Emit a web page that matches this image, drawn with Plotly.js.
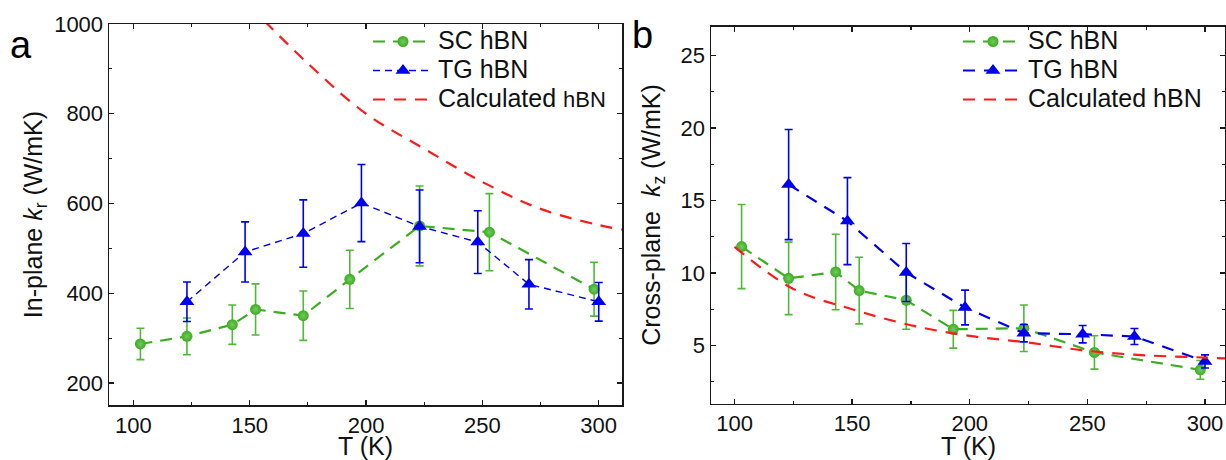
<!DOCTYPE html>
<html>
<head>
<meta charset="utf-8">
<script src="https://cdn.plot.ly/plotly-3.0.1.min.js"></script>
<style>html,body{margin:0;padding:0;background:#fff;}#chart{width:1226px;height:460px;}</style>
</head>
<body>
<div id="chart"></div>
<script>
// ---- Panel a: in-plane thermal conductivity ----
const scT_a = [103, 123, 142.5, 152.5, 173, 193, 223, 253, 298];
const scK_a = [287, 304, 330, 364, 350, 431, 550, 536, 409];
const scErr_a = [35, 41, 44, 57, 55, 65, 89, 86, 60];

const tgT_a = [123, 148, 173, 198, 223, 248, 270, 300];
const tgK_a = [381, 492, 533, 601, 549, 514, 420, 381];
const tgErr_a = [44, 67, 75, 86, 81, 70, 55, 43];

const calcT_a = [150, 175, 200, 225, 250, 275, 300, 310];
const calcK_a = [1040, 912, 800, 722, 648, 588, 552, 542];

// ---- Panel b: cross-plane thermal conductivity ----
const scT_b = [103, 123, 143, 153, 173, 193, 223, 253, 298];
const scK_b = [11.82, 9.63, 10.07, 8.79, 8.12, 6.12, 6.19, 4.52, 3.32];
const scErr_b = [2.9, 2.5, 2.6, 2.3, 2.0, 1.3, 1.6, 1.15, 0.65];

const tgT_b = [123, 148, 173, 198, 223, 248, 270, 300];
const tgK_b = [16.1, 13.58, 10.03, 7.62, 5.85, 5.78, 5.62, 3.9];
const tgErr_b = [3.8, 3.0, 2.0, 1.2, 0.6, 0.6, 0.55, 0.45];

const calcT_b = [100, 125, 150, 175, 200, 225, 250, 275, 300, 310];
const calcK_b = [11.8, 8.9, 7.5, 6.4, 5.66, 5.2, 4.63, 4.32, 4.17, 4.1];

const legendNames_a = ['SC hBN', 'TG hBN', 'Calculated <span style="font-size:22px">hBN</span>'];
const legendNames_b = ['SC hBN', 'TG hBN', 'Calculated hBN'];
const xTitle = 'T (K)';

const GREEN = '#3aae1e';
const GREEN_ERR = '#4fba36';
const BLUE = '#0000f0';
const RED = '#ff1a1a';
const FONT = 'Arial, "Liberation Sans", sans-serif';

const W = 1226, H = 460;
const px = v => v / W;
const py = v => 1 - v / H;
const big = s => '<span style="font-size:25px">' + s + '</span>';
const greenMarker = {symbol: 'circle', size: 11, color: GREEN, gradient: {type: 'radial', color: '#74c962'}};

const traces = [
  {
    x: scT_a, y: scK_a, name: big(legendNames_a[0]), type: 'scatter', mode: 'lines+markers',
    xaxis: 'x', yaxis: 'y', legend: 'legend',
    line: {color: GREEN, width: 2.2, dash: '12px,8px'},
    marker: greenMarker,
    error_y: {type: 'data', array: scErr_a, visible: true, color: GREEN_ERR, thickness: 1.6, width: 4}
  },
  {
    x: tgT_a, y: tgK_a, name: big(legendNames_a[1]), type: 'scatter', mode: 'lines+markers',
    xaxis: 'x', yaxis: 'y', legend: 'legend',
    line: {color: BLUE, width: 1.4, dash: '7px,5px'},
    marker: {symbol: 'triangle-up', size: 13, color: BLUE},
    error_y: {type: 'data', array: tgErr_a, visible: true, color: BLUE, thickness: 1.6, width: 4}
  },
  {
    x: calcT_a, y: calcK_a, name: big(legendNames_a[2]), type: 'scatter', mode: 'lines',
    xaxis: 'x', yaxis: 'y', legend: 'legend',
    line: {color: RED, width: 2.2, dash: '12px,9px', shape: 'spline'}
  },
  {
    x: scT_b, y: scK_b, name: big(legendNames_b[0]), type: 'scatter', mode: 'lines+markers',
    xaxis: 'x2', yaxis: 'y2', legend: 'legend2',
    line: {color: GREEN, width: 2.2, dash: '12px,8px'},
    marker: greenMarker,
    error_y: {type: 'data', array: scErr_b, visible: true, color: GREEN_ERR, thickness: 1.6, width: 4}
  },
  {
    x: tgT_b, y: tgK_b, name: big(legendNames_b[1]), type: 'scatter', mode: 'lines+markers',
    xaxis: 'x2', yaxis: 'y2', legend: 'legend2',
    line: {color: BLUE, width: 2.2, dash: '12px,9px'},
    marker: {symbol: 'triangle-up', size: 13, color: BLUE},
    error_y: {type: 'data', array: tgErr_b, visible: true, color: BLUE, thickness: 1.6, width: 4}
  },
  {
    x: calcT_b, y: calcK_b, name: big(legendNames_b[2]), type: 'scatter', mode: 'lines',
    xaxis: 'x2', yaxis: 'y2', legend: 'legend2',
    line: {color: RED, width: 2.2, dash: '12px,9px', shape: 'spline'}
  }
];

const axisCommon = {
  showline: true, linecolor: '#1a1a1a', linewidth: 1.5, mirror: 'ticks',
  ticks: 'inside', ticklen: 5, tickwidth: 1.3, tickcolor: '#1a1a1a',
  showgrid: false, zeroline: false,
  tickfont: {family: FONT, size: 22, color: '#111'},
  minor: {ticks: 'inside', ticklen: 3, tickwidth: 1.1, tickcolor: '#1a1a1a', showgrid: false}
};

const titleFont = {family: FONT, size: 25, color: '#111'};

const layout = {
  width: W, height: H,
  margin: {l: 0, r: 0, t: 0, b: 0},
  paper_bgcolor: '#fff', plot_bgcolor: '#fff',
  font: {family: FONT, color: '#111'},
  showlegend: true,
  xaxis: Object.assign({}, axisCommon, {
    domain: [px(109), px(622)], anchor: 'y',
    range: [89.5, 310], tickmode: 'linear', tick0: 100, dtick: 50,
    minor: Object.assign({}, axisCommon.minor, {dtick: 25, tick0: 100})
  }),
  yaxis: Object.assign({}, axisCommon, {
    domain: [py(405), py(24)], anchor: 'x',
    range: [151, 1000], tickmode: 'linear', tick0: 200, dtick: 200,
    minor: Object.assign({}, axisCommon.minor, {dtick: 100, tick0: 200}),
    title: {text: 'In-plane <i>k</i><sub>r</sub> (W/mK)', font: titleFont, standoff: 4}
  }),
  xaxis2: Object.assign({}, axisCommon, {
    domain: [px(711), px(1225)], anchor: 'y2',
    range: [90, 308.5], tickmode: 'linear', tick0: 100, dtick: 50,
    minor: Object.assign({}, axisCommon.minor, {dtick: 25, tick0: 100})
  }),
  yaxis2: Object.assign({}, axisCommon, {
    domain: [py(403.5), py(26.5)], anchor: 'x2',
    range: [1, 27], tickmode: 'linear', tick0: 5, dtick: 5,
    minor: Object.assign({}, axisCommon.minor, {dtick: 2.5, tick0: 0}),
    title: {text: 'Cross-plane  <i>k</i><sub>z</sub> (W/mK)', font: titleFont, standoff: 13}
  }),
  legend: {
    x: px(368), y: py(22), xanchor: 'left', yanchor: 'top',
    bgcolor: 'rgba(0,0,0,0)', borderwidth: 0,
    font: {family: FONT, size: 20, color: '#111'},
    itemwidth: 60, tracegroupgap: 0
  },
  legend2: {
    x: px(958), y: py(22), xanchor: 'left', yanchor: 'top',
    bgcolor: 'rgba(0,0,0,0)', borderwidth: 0,
    font: {family: FONT, size: 20, color: '#111'},
    itemwidth: 60, tracegroupgap: 0
  },
  annotations: [
    {text: xTitle, x: 0.5, y: py(446), xref: 'x domain', yref: 'paper', xanchor: 'center', yanchor: 'middle',
     showarrow: false, font: titleFont},
    {text: xTitle, x: 0.5, y: py(446), xref: 'x2 domain', yref: 'paper', xanchor: 'center', yanchor: 'middle',
     showarrow: false, font: titleFont},
    {text: 'a', x: px(8), y: py(45), xref: 'paper', yref: 'paper', xanchor: 'left', yanchor: 'middle',
     showarrow: false, font: {family: FONT, size: 38, color: '#000'}},
    {text: 'b', x: px(630), y: py(35), xref: 'paper', yref: 'paper', xanchor: 'left', yanchor: 'middle',
     showarrow: false, font: {family: FONT, size: 38, color: '#000'}}
  ]
};

Plotly.newPlot('chart', traces, layout, {displayModeBar: false, staticPlot: true});
</script>
</body>
</html>
